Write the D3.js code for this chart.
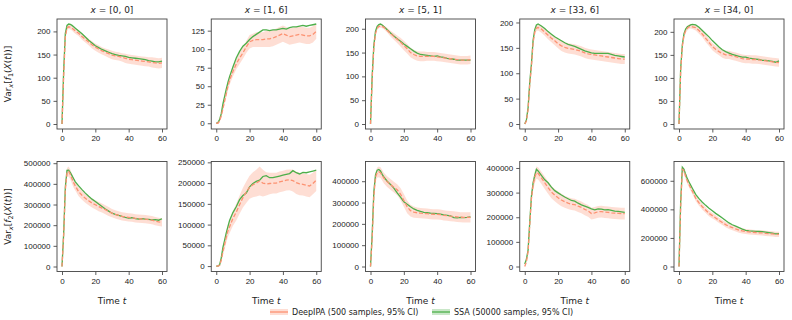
<!DOCTYPE html>
<html>
<head>
<meta charset="utf-8">
<script src="https://cdn.jsdelivr.net/npm/d3@7/dist/d3.min.js"></script>
<style>
body { margin: 0; background: #fff; }
svg { font-family: "DejaVu Sans", sans-serif; }
.tick text { font-size: 8px; fill: #222; }
.tick line { stroke: #333; stroke-width: 0.8; }
.box { fill: none; stroke: #444; stroke-width: 0.9; }
.ci-band { fill: #fc9272; fill-opacity: 0.3; stroke: none; }
.deep-line { fill: none; stroke: #fc9272; stroke-width: 1.3; stroke-dasharray: 4,2; }
.ssa-line { fill: none; stroke: #4daf4a; stroke-width: 1.3; }
.lbl { font-size: 9px; fill: #222; }
</style>
</head>
<body>
<div id="chart"></div>
<script>
// time grid (shared by all panels)
var timeT = [0,1,2,3,4,5,6,7,8,10,12,14,16,18,20,22,24,26,28,30,32,34,36,38,40,42,44,46,48,50,52,54,56,58,60];

var titles = ["[0, 0]", "[1, 6]", "[5, 1]", "[33, 6]", "[34, 0]"];
var xTicks = [0, 20, 40, 60];

// y tick values, row f1 then row f2
var f1Ticks = [[0,50,100,150,200], [0,25,50,75,100,125], [0,50,100,150,200], [0,50,100,150,200], [0,50,100,150,200]];
var f2Ticks = [[0,100000,200000,300000,400000,500000], [0,50000,100000,150000,200000,250000],
               [0,100000,200000,300000,400000], [0,100000,200000,300000,400000], [0,200000,400000,600000]];

// ---- f1 row ----
var f1Ssa00 = [0,115,196,213,216,215,213,210,207,201,195,188,181,175,169,165,161,158,155,152,150,148,147,146,144,143,142,141,140,139,137,136,134,134,136];
var f1Deep00 = [0,105,188,207,210,209,207,204,201,196,189,183,177,171,166,162,158,155,152,149,147,146,144,142,140,139,138,137,136,135,134,133,132,131,132];
var f1Ci00 = [0,4,5,5,5,5,5,6,6,6,7,7,7,8,8,8,8,8,9,9,9,9,9,10,10,10,10,10,10,10,10,11,11,11,11];

var f1Ssa16 = [0,1,5,13,26,36,46,55,63,76,88,97,104,108,113,117,120,123,126,126,125,126,126,127,128,127,129,130,130,131,132,131,132,133,134];
var f1Deep16 = [0,0,3,10,20,30,40,50,58,70,80,88,95,103,110,112,113,113,113,114,114,115,117,119,121,119,117,118,119,120,119,118,118,120,124];
var f1Ci16 = [0,1,2,3,4,5,5,6,6,7,7,8,8,8,9,9,10,10,10,11,11,11,11,11,11,11,11,11,11,11,11,11,11,11,10];

var f1Ssa51 = [0,100,165,195,205,209,210,208,205,198,191,185,179,174,168,163,158,153,149,146,145,144,143,142,143,141,140,138,137,136,134,134,134,134,134];
var f1Deep51 = [0,95,160,190,201,205,206,205,203,197,190,184,178,172,165,158,150,146,143,142,142,142,142,142,141,140,139,138,137,136,135,134,134,134,135];
var f1Ci51 = [0,5,5,4,4,4,4,4,4,5,6,7,8,9,10,10,10,10,10,10,10,9,9,9,9,9,9,9,9,9,9,9,9,9,9];

var f1Ssa336 = [0,8,32,82,118,165,186,195,197,193,188,182,177,172,168,164,160,157,155,153,150,147,144,142,140,139,139,139,139,139,137,135,134,133,132];
var f1Deep336 = [0,6,28,78,113,160,181,189,190,187,181,175,169,164,158,154,151,149,148,147,145,143,140,138,137,136,135,134,133,132,131,130,129,128,128];
var f1Ci336 = [0,3,5,6,6,6,6,6,6,7,7,8,8,9,9,10,10,10,10,10,10,10,10,10,10,10,10,10,10,10,10,10,10,10,10];

var f1Ssa340 = [0,120,172,196,206,211,213,215,216,215,210,203,196,189,181,174,167,161,157,154,151,149,147,145,145,143,142,141,140,138,138,137,136,134,137];
var f1Deep340 = [0,115,168,192,203,208,211,212,211,209,203,195,186,177,168,162,157,153,150,150,148,146,144,142,141,141,140,140,139,138,137,136,135,134,133];
var f1Ci340 = [0,5,5,5,5,5,5,5,5,6,7,7,8,8,8,8,8,9,9,9,9,9,9,9,9,9,9,9,9,9,9,9,9,9,9];

// ---- f2 row ----
var f2Ssa00 = [0,160000,385000,465000,466000,455000,440000,425000,410000,390000,372000,355000,340000,326000,315000,302000,290000,278000,268000,258000,252000,247000,243000,238000,234000,236000,232000,230000,232000,229000,228000,226000,227000,224000,231000];
var f2Deep00 = [0,150000,370000,455000,460000,445000,425000,405000,390000,362000,345000,330000,318000,307000,299000,290000,283000,275000,266000,258000,252000,247000,243000,240000,238000,236000,233000,232000,230000,229000,227000,224000,220000,216000,213000];
var f2Ci00 = [0,10000,20000,22000,24000,24000,24000,24000,22000,22000,22000,22000,22000,22000,22000,22000,22000,22000,22000,20000,20000,20000,20000,20000,20000,20000,20000,20000,20000,20000,20000,20000,20000,20000,20000];

var f2Ssa16 = [0,0,3000,20000,45000,62000,80000,95000,110000,129000,143000,160000,170000,176000,191000,199000,204000,207000,216000,218000,213000,213000,215000,217000,219000,221000,223000,230000,225000,222000,226000,225000,227000,229000,231000];
var f2Deep16 = [0,0,2000,14000,35000,52000,70000,85000,95000,115000,130000,148000,165000,178000,190000,196000,200000,205000,200000,198000,199000,200000,200000,203000,205000,207000,208000,206000,201000,198000,197000,195000,193000,199000,207000];
var f2Ci16 = [0,1000,3000,6000,9000,12000,14000,15000,16000,18000,20000,22000,24000,26000,28000,30000,32000,35000,32000,28000,26000,25000,25000,25000,25000,25000,25000,26000,27000,27000,27000,27000,27000,26000,26000];

var f2Ssa51 = [0,150000,350000,430000,452000,455000,448000,432000,420000,400000,385000,368000,345000,325000,303000,292000,280000,270000,263000,258000,254000,252000,250000,249000,248000,245000,242000,240000,237000,229000,228000,230000,229000,230000,233000];
var f2Deep51 = [0,130000,330000,420000,440000,444000,440000,428000,415000,398000,385000,372000,360000,340000,310000,280000,262000,255000,252000,250000,249000,248000,246000,245000,245000,243000,240000,238000,236000,235000,233000,231000,230000,230000,230000];
var f2Ci51 = [0,10000,18000,22000,24000,25000,25000,25000,25000,25000,25000,25000,26000,28000,30000,30000,28000,26000,25000,24000,24000,24000,24000,24000,24000,24000,24000,24000,24000,24000,24000,24000,24000,24000,24000];

var f2Ssa336 = [10000,30000,67000,180000,285000,340000,370000,395000,388000,370000,352000,340000,322000,308000,299000,290000,282000,275000,268000,265000,257000,250000,245000,240000,234000,230000,234000,233000,230000,231000,228000,225000,224000,222000,220000];
var f2Deep336 = [0,20000,60000,170000,275000,330000,362000,381000,378000,360000,340000,320000,302000,290000,279000,270000,263000,257000,253000,251000,245000,240000,232000,226000,215000,218000,222000,223000,221000,220000,218000,217000,216000,215000,215000];
var f2Ci336 = [0,8000,12000,16000,20000,22000,24000,25000,25000,25000,25000,25000,25000,25000,25000,25000,24000,24000,24000,24000,24000,24000,24000,24000,24000,24000,24000,24000,24000,24000,24000,24000,24000,24000,24000];

var f2Ssa340 = [0,450000,695000,680000,645000,615000,592000,570000,548000,505000,475000,450000,428000,408000,390000,372000,356000,340000,322000,305000,292000,282000,272000,262000,253000,250000,248000,246000,245000,244000,241000,237000,233000,228000,230000];
var f2Deep340 = [0,420000,680000,670000,630000,598000,575000,550000,528000,479000,445000,418000,395000,372000,356000,340000,323000,308000,293000,281000,272000,263000,255000,249000,245000,242000,240000,238000,236000,235000,232000,230000,228000,225000,225000];
var f2Ci340 = [0,15000,20000,20000,20000,20000,20000,20000,20000,20000,20000,20000,20000,20000,20000,18000,18000,18000,18000,18000,18000,18000,18000,18000,18000,18000,18000,18000,18000,18000,18000,18000,18000,18000,18000];

var legendLabels = ["DeepIPA (500 samples, 95% CI)", "SSA (50000 samples, 95% CI)"];

// table for the panels
var panelRows = [
    [[f1Ssa00, f1Deep00, f1Ci00], [f1Ssa16, f1Deep16, f1Ci16], [f1Ssa51, f1Deep51, f1Ci51], [f1Ssa336, f1Deep336, f1Ci336], [f1Ssa340, f1Deep340, f1Ci340]],
    [[f2Ssa00, f2Deep00, f2Ci00], [f2Ssa16, f2Deep16, f2Ci16], [f2Ssa51, f2Deep51, f2Ci51], [f2Ssa336, f2Deep336, f2Ci336], [f2Ssa340, f2Deep340, f2Ci340]]
];
var rowTicks = [f1Ticks, f2Ticks];


VarPanel = function(_svg, _series, _ticks, _row, _col) {
    this.svg = _svg;
    this.ticks = _ticks;
    this.row = _row;
    this.col = _col;
    this.data = timeT.map(function(t, i) {
        return {t: t, ssa: _series[0][i], deep: _series[1][i], lo: _series[1][i] - _series[2][i], hi: _series[1][i] + _series[2][i]};
    });

    this.initVis();
};

VarPanel.prototype.initVis = function() {
    var vis = this;
    vis.margin = {left: 57 + vis.col * 154.25, top: vis.row === 0 ? 19 : 161.5};
    vis.width = 110;
    vis.height = 110;

    vis.g = vis.svg.append("g")
        .attr("transform", "translate(" + vis.margin.left + "," + vis.margin.top + ")");

    // matplotlib style autoscale: data extent + 5% each side
    var lo = d3.min(vis.data, function(d) { return Math.min(d.lo, d.ssa); });
    var hi = d3.max(vis.data, function(d) { return Math.max(d.hi, d.ssa); });
    var pad = (hi - lo) * 0.05;

    vis.xScale = d3.scaleLinear().domain([-3, 63]).range([0, vis.width]);
    vis.yScale = d3.scaleLinear().domain([lo - pad, hi + pad]).range([vis.height, 0]);

    vis.area = d3.area()
        .x(function(d) { return vis.xScale(d.t); })
        .y0(function(d) { return vis.yScale(d.lo); })
        .y1(function(d) { return vis.yScale(d.hi); });

    vis.lineSsa = d3.line()
        .x(function(d) { return vis.xScale(d.t); })
        .y(function(d) { return vis.yScale(d.ssa); });

    vis.lineDeep = d3.line()
        .x(function(d) { return vis.xScale(d.t); })
        .y(function(d) { return vis.yScale(d.deep); });

    vis.g.append("path").datum(vis.data).attr("class", "ci-band").attr("d", vis.area);
    vis.g.append("path").datum(vis.data).attr("class", "ssa-line").attr("d", vis.lineSsa);
    vis.g.append("path").datum(vis.data).attr("class", "deep-line").attr("d", vis.lineDeep);

    var yDom = vis.yScale.domain();
    var yAxis = d3.axisLeft(vis.yScale)
        .tickValues(vis.ticks.filter(function(v) { return v >= yDom[0] && v <= yDom[1]; }))
        .tickFormat(d3.format("d"))
        .tickSize(3.5)
        .tickPadding(3);
    var xAxis = d3.axisBottom(vis.xScale)
        .tickValues(xTicks)
        .tickSize(3.5)
        .tickPadding(3);

    vis.g.append("g").call(yAxis).call(function(a) { a.select(".domain").remove(); });
    vis.g.append("g").attr("transform", "translate(0," + vis.height + ")")
        .call(xAxis).call(function(a) { a.select(".domain").remove(); });

    vis.g.append("rect").attr("class", "box")
        .attr("width", vis.width).attr("height", vis.height);

    if (vis.row === 0) {
        var title = vis.g.append("text").attr("class", "lbl")
            .attr("x", vis.width / 2).attr("y", -6).attr("text-anchor", "middle");
        title.append("tspan").attr("font-style", "italic").text("x");
        title.append("tspan").text(" = " + titles[vis.col]);
    } else {
        var xl = vis.g.append("text").attr("class", "lbl")
            .attr("x", vis.width / 2).attr("y", vis.height + 32).attr("text-anchor", "middle");
        xl.append("tspan").text("Time ");
        xl.append("tspan").attr("font-style", "italic").text("t");
    }

    if (vis.col === 0) {
        var yl = vis.g.append("text").attr("class", "lbl")
            .attr("transform", "translate(" + (11 - vis.margin.left) + "," + (vis.height / 2) + ") rotate(-90)")
            .attr("text-anchor", "middle");
        yl.append("tspan").text("Var");
        yl.append("tspan").attr("font-style", "italic").attr("font-size", "6.5px").attr("dy", 2).text("x");
        yl.append("tspan").attr("dy", -2).text("[");
        yl.append("tspan").attr("font-style", "italic").text("f");
        yl.append("tspan").attr("font-size", "6.5px").attr("dy", 2).text(vis.row === 0 ? "1" : "2");
        yl.append("tspan").attr("dy", -2).text("(");
        yl.append("tspan").attr("font-style", "italic").text("X");
        yl.append("tspan").text("(");
        yl.append("tspan").attr("font-style", "italic").text("t");
        yl.append("tspan").text("))]");
    }
};


var svg = d3.select("#chart").append("svg")
    .attr("width", 792)
    .attr("height", 320);

panelRows.forEach(function(row, r) {
    row.forEach(function(series, c) {
        new VarPanel(svg, series, rowTicks[r][c], r, c);
    });
});

// legend
var legend = svg.append("g").attr("transform", "translate(0,312)");
var legendX = [270, 432];
var legendColors = ["#fc9272", "#4daf4a"];
legendLabels.forEach(function(label, i) {
    var item = legend.append("g").attr("transform", "translate(" + legendX[i] + ",0)");
    item.append("rect").attr("x", 0).attr("y", -3).attr("width", 18).attr("height", 6)
        .attr("fill", legendColors[i]).attr("fill-opacity", 0.3);
    item.append("line").attr("x1", 0).attr("x2", 18).attr("y1", 0).attr("y2", 0)
        .attr("stroke", legendColors[i]).attr("stroke-width", 1.3);
    item.append("text").attr("x", 22).attr("y", 3).attr("font-size", "8px").attr("fill", "#222")
        .text(label);
});
</script>
</body>
</html>
